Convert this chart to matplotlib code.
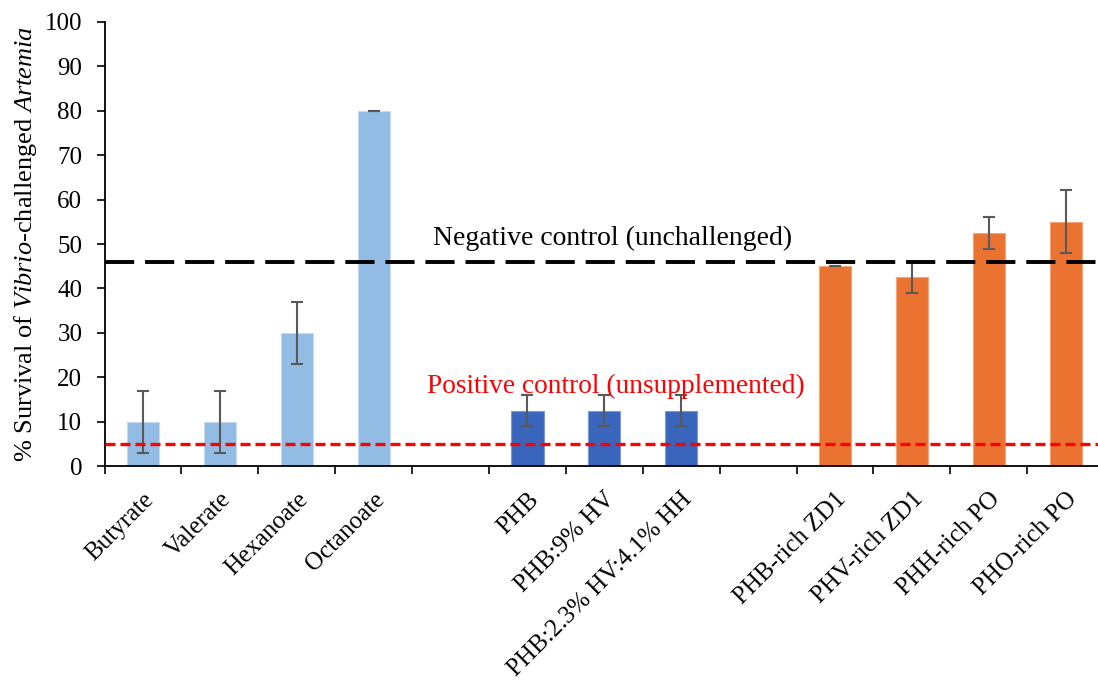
import numpy as np
import matplotlib.pyplot as plt

plt.rcParams["font.family"] = ["Liberation Serif", "DejaVu Serif"]
plt.rcParams["mathtext.fontset"] = "custom"
plt.rcParams["mathtext.rm"] = "Liberation Serif"
plt.rcParams["mathtext.it"] = "Liberation Serif:italic"

# ─── Data ─────────────────────────────────────────────────────────────────────

acids = ["Butyrate", "Valerate", "Hexanoate", "Octanoate"]
acid_mean = [10, 10, 30, 80]
acid_err = [7, 7, 7, 0]

polymers = ["PHB", "PHB:9% HV", "PHB:2.3% HV:4.1% HH"]
polymer_mean = [12.5, 12.5, 12.5]
polymer_err = [3.6, 3.6, 3.6]

rich = ["PHB-rich ZD1", "PHV-rich ZD1", "PHH-rich PO", "PHO-rich PO"]
rich_mean = [45, 42.5, 52.5, 55]
rich_err = [0, 3.5, 3.6, 7.1]

negative_control = 46
positive_control = 5

# slot positions: groups separated by one empty slot
acid_x = np.arange(0, 4)
polymer_x = np.arange(5, 8)
rich_x = np.arange(9, 13)

# ─── Figure ───────────────────────────────────────────────────────────────────

fig = plt.figure(figsize=(10.98, 6.81), dpi=100)
ax = fig.add_axes([0.0952, 0.3157, 0.9104, 0.652])

bar_w = 0.42
err_kw = dict(ecolor="#595959", elinewidth=1.5, capsize=4.5, capthick=1.5)

for xs, ys, es, col, edge in [
    (acid_x, acid_mean, acid_err, "#92BCE4", "#C4DBF1"),
    (polymer_x, polymer_mean, polymer_err, "#3966BC", "#7C9BD6"),
    (rich_x, rich_mean, rich_err, "#EB7332", "#F3A57A"),
]:
    ax.bar(xs, ys, width=bar_w, color=col, edgecolor=edge, linewidth=0.8,
           yerr=es, error_kw=err_kw, zorder=2)

ax.axhline(negative_control, color="black", lw=2.8, dashes=(7.5, 2.8), zorder=3)
ax.axhline(positive_control, color="#FF0000", lw=2.4, dashes=(3.0, 1.5), zorder=3)

ax.text(3.77, 51.2, "Negative control (unchallenged)", fontsize=20,
        color="black", va="center", ha="left")
ax.text(3.69, 18.0, "Positive control (unsupplemented)", fontsize=19.7,
        color="#FF0000", va="center", ha="left")

ax.set_xlim(-0.5, 12.5)
ax.set_ylim(0, 100)
ax.set_yticks(np.arange(0, 101, 10))
ax.tick_params(axis="y", labelsize=18, length=6, width=1.2, direction="out",
               pad=10)

# category labels at slot centres, tick marks on slot boundaries
labels_x = list(acid_x) + list(polymer_x) + list(rich_x)
labels = acids + polymers + rich
ax.set_xticks(labels_x)
ax.set_xticklabels(labels, rotation=45, ha="right", rotation_mode="anchor",
                   fontsize=18)
ax.tick_params(axis="x", length=0, pad=16)
ax.set_xticks(np.arange(-0.5, 13.0, 1.0), minor=True)
ax.tick_params(axis="x", which="minor", length=6, width=1.2, direction="out")

ax.set_ylabel(r"% Survival of $Vibrio$-challenged $Artemia$", fontsize=19,
              labelpad=4)

for side in ["top", "right"]:
    ax.spines[side].set_visible(False)
for side in ["left", "bottom"]:
    ax.spines[side].set_linewidth(1.3)

fig.savefig("out.png", dpi=100)
